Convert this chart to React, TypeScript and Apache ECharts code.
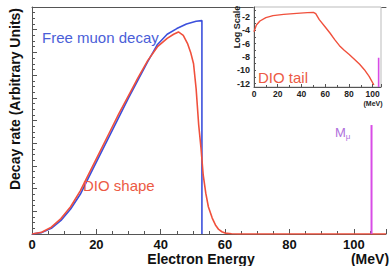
import React, { useEffect, useRef } from "react";
import * as echarts from "echarts";

// Main plot: free muon decay (Michel) spectrum, arbitrary units
const blueE = [0, 3, 6, 9, 12, 15, 18, 21, 24, 27, 30, 33, 36, 39, 42, 45, 48, 51, 52.8, 52.8];
const blueV = [0, 0.006, 0.025, 0.06, 0.11, 0.175, 0.26, 0.345, 0.43, 0.515, 0.6, 0.68, 0.76, 0.835, 0.88, 0.905, 0.925, 0.937, 0.94, 0];

// Main plot: DIO shape
const redE = [0, 3, 6, 9, 12, 15, 18, 21, 24, 27, 30, 33, 36, 39, 42, 44, 45.5, 47, 48.3, 49.3, 50.2, 51, 51.8, 52.5, 53.2, 54, 54.8, 56, 57, 58, 59, 60, 62, 64, 110];
const redV = [0, 0.008, 0.03, 0.068, 0.12, 0.19, 0.275, 0.36, 0.445, 0.53, 0.61, 0.69, 0.765, 0.825, 0.862, 0.88, 0.89, 0.875, 0.84, 0.8, 0.75, 0.64, 0.48, 0.38, 0.26, 0.18, 0.12, 0.07, 0.04, 0.02, 0.01, 0.004, 0.001, 0, 0];

// Muon mass marker
const muMassE = 105.5;
const muMarkV = [0, 0.48];

// Inset: DIO tail on log scale
const tailE = [0, 2, 5, 10, 16, 25, 36, 45, 50, 52, 55, 60, 64, 68, 72, 76, 80, 85, 89, 93, 97, 101];
const tailV = [-4.2, -3.2, -2.6, -2.1, -1.8, -1.6, -1.45, -1.35, -1.3, -1.5, -2.4, -3.5, -4.4, -5.4, -6.3, -7.0, -7.6, -8.4, -9.1, -9.9, -10.9, -12.2];
const insetMuE = 105;
const insetMuV = [-12.5, -8.1];

const insetYTicks = [-12, -10, -8, -6, -4, -2];
const insetYMinor = [-12, -11, -10, -9, -8, -7, -6, -5, -4, -3, -2, -1];

const BLUE = "#3c50dc";
const RED = "#f0503c";
const MAGENTA = "#d84ce6";
const AXIS = "#555";
const FONT = "'Liberation Sans', Arial, sans-serif";

const zip = (a: number[], b: number[]) => a.map((x, i) => [x, b[i]]);

export default function App() {
  const ref = useRef<HTMLDivElement>(null);
  useEffect(() => {
    if (!ref.current) return;
    const chart = echarts.init(ref.current, undefined, { renderer: "svg" });
    chart.setOption({
      animation: false,
      backgroundColor: "#fff",
      textStyle: { fontFamily: FONT },
      grid: [
        { left: 32, top: 7, width: 357, height: 227, containLabel: false },
        {
          left: 254, top: 7, width: 127, height: 80, show: true,
          backgroundColor: "#fff", borderColor: "#bbb", borderWidth: 1, z: 5,
        },
      ],
      xAxis: [
        {
          gridIndex: 0, type: "value", min: 0, max: 110, interval: 20,
          axisLine: { lineStyle: { color: AXIS, width: 1 } },
          axisTick: { inside: true, length: 5, lineStyle: { color: AXIS } },
          minorTick: { show: true, splitNumber: 4, length: 3, lineStyle: { color: AXIS } },
          splitLine: { show: false },
          axisLabel: {
            margin: 4, color: "#111", fontSize: 13, fontWeight: "bold", fontFamily: FONT,
            formatter: (v: number) => (v % 20 === 0 && v <= 100 ? String(v) : ""),
          },
        },
        {
          gridIndex: 0, type: "value", min: 0, max: 110, position: "top",
          axisLine: { lineStyle: { color: AXIS, width: 1 } },
          axisTick: { show: false }, axisLabel: { show: false }, splitLine: { show: false },
        },
        {
          gridIndex: 1, type: "value", min: 0, max: 107, interval: 20,
          axisLine: { lineStyle: { color: AXIS, width: 1 } },
          axisTick: { inside: true, length: 3, lineStyle: { color: AXIS } },
          minorTick: { show: true, splitNumber: 2, length: 2, lineStyle: { color: AXIS } },
          splitLine: { show: false },
          axisLabel: {
            margin: 2, color: "#222", fontSize: 8.5, fontWeight: "bold", fontFamily: FONT,
            formatter: (v: number) => (v % 20 === 0 && v <= 100 ? String(v) : ""),
          },
          z: 6,
        },
      ],
      yAxis: [
        {
          gridIndex: 0, type: "value", min: 0, max: 1, interval: 0.1,
          axisLine: { lineStyle: { color: AXIS, width: 1 } },
          axisTick: { inside: true, length: 5, lineStyle: { color: AXIS } },
          minorTick: { show: true, splitNumber: 4, length: 3, lineStyle: { color: AXIS } },
          splitLine: { show: false },
          axisLabel: { show: false },
        },
        {
          gridIndex: 1, type: "value", min: -12.5, max: -0.5,
          axisLine: { lineStyle: { color: AXIS, width: 1 } },
          axisTick: { inside: true, length: 2, customValues: insetYMinor, lineStyle: { color: AXIS } },
          splitLine: { show: false },
          axisLabel: {
            customValues: insetYTicks, margin: 4, color: "#222", fontSize: 9,
            fontWeight: "bold", fontFamily: FONT,
          },
          z: 6,
        },
      ],
      series: [
        {
          type: "line", xAxisIndex: 0, yAxisIndex: 0, data: zip(blueE, blueV),
          showSymbol: false, symbol: "none", lineStyle: { color: BLUE, width: 1.6 }, z: 3,
        },
        {
          type: "line", xAxisIndex: 0, yAxisIndex: 0, data: zip(redE, redV),
          showSymbol: false, symbol: "none", lineStyle: { color: RED, width: 1.6 }, z: 4,
        },
        {
          type: "line", xAxisIndex: 0, yAxisIndex: 0,
          data: muMarkV.map((v) => [muMassE, v]),
          showSymbol: false, symbol: "none", lineStyle: { color: MAGENTA, width: 2 }, z: 4,
        },
        {
          type: "line", xAxisIndex: 2, yAxisIndex: 1, data: zip(tailE, tailV),
          showSymbol: false, symbol: "none", lineStyle: { color: RED, width: 1.4 }, z: 7,
        },
        {
          type: "line", xAxisIndex: 2, yAxisIndex: 1,
          data: insetMuV.map((v) => [insetMuE, v]),
          showSymbol: false, symbol: "none", lineStyle: { color: MAGENTA, width: 1.6 }, z: 7,
        },
      ],
      graphic: [
        {
          type: "text", x: 15, y: 99, rotation: Math.PI / 2, z: 20,
          style: {
            text: "Decay rate (Arbitrary Units)", fill: "#111", fontSize: 14,
            fontWeight: "bold", fontFamily: FONT, align: "center", verticalAlign: "middle",
          },
        },
        {
          type: "text", x: 201, y: 259, z: 20,
          style: {
            text: "Electron Energy", fill: "#111", fontSize: 14, fontWeight: "bold",
            fontFamily: FONT, align: "center", verticalAlign: "middle",
          },
        },
        {
          type: "text", x: 370, y: 259, z: 20,
          style: {
            text: "(MeV)", fill: "#111", fontSize: 14, fontWeight: "bold",
            fontFamily: FONT, align: "center", verticalAlign: "middle",
          },
        },
        {
          type: "text", x: 42, y: 37, z: 20,
          style: {
            text: "Free muon decay", fill: "#4a5ed8", fontSize: 15, fontFamily: FONT,
            align: "left", verticalAlign: "middle",
          },
        },
        {
          type: "text", x: 83, y: 185, z: 20,
          style: {
            text: "DIO shape", fill: "#ec5a44", fontSize: 15, fontFamily: FONT,
            align: "left", verticalAlign: "middle",
          },
        },
        {
          type: "text", x: 258, y: 77.5, z: 20,
          style: {
            text: "DIO tail", fill: "#ec5a44", fontSize: 15, fontFamily: FONT,
            align: "left", verticalAlign: "middle",
          },
        },
        {
          type: "text", x: 237, y: 27, rotation: Math.PI / 2, z: 20,
          style: {
            text: "Log Scale", fill: "#222", fontSize: 9, fontWeight: "bold",
            fontFamily: FONT, align: "center", verticalAlign: "middle",
          },
        },
        {
          type: "text", x: 373, y: 103, z: 20,
          style: {
            text: "(MeV)", fill: "#222", fontSize: 7, fontWeight: "bold",
            fontFamily: FONT, align: "center", verticalAlign: "middle",
          },
        },
        {
          type: "text", x: 335, y: 132, z: 20,
          style: {
            text: "{m|M}{s|μ}", fill: "#b070dc", fontFamily: FONT, verticalAlign: "middle",
            rich: {
              m: { fontSize: 13, fill: "#b070dc", fontFamily: FONT },
              s: { fontSize: 8, fill: "#b070dc", fontFamily: FONT, padding: [8, 0, 0, 0] },
            },
          },
        },
      ],
    });
    return () => chart.dispose();
  }, []);
  return (
    <div
      ref={ref}
      style={{ position: "fixed", left: 0, top: 0, width: 389, height: 266, background: "#fff" }}
    />
  );
}
